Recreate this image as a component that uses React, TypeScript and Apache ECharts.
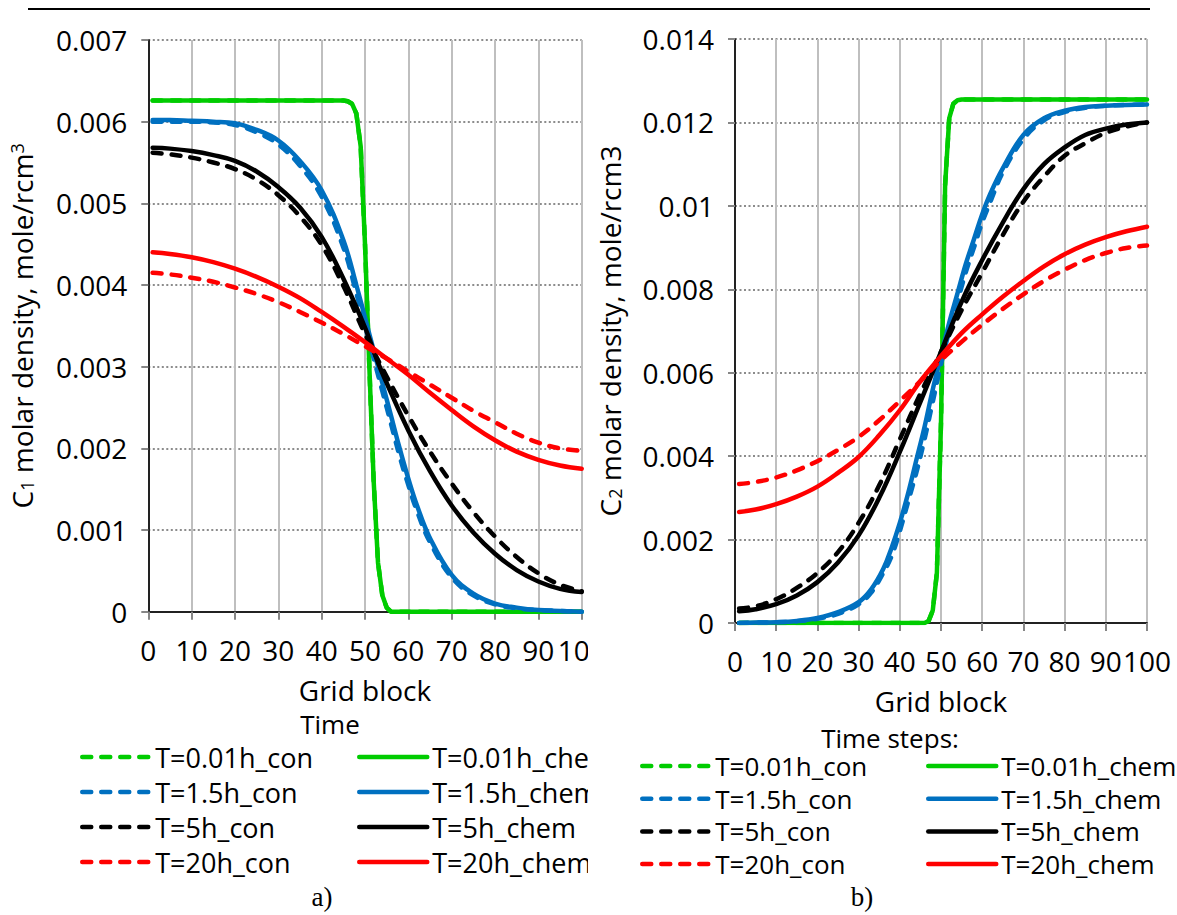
import React, { useEffect, useRef } from 'react';
import * as echarts from 'echarts';

const FONT = '"Open Sans", "Noto Sans", sans-serif';
const SERIF = '"Liberation Serif", "DejaVu Serif", serif';

const timeSteps = ['T=0.01h', 'T=1.5h', 'T=5h', 'T=20h'];
const stepColors = ['#00cc00', '#0070c0', '#000000', '#ff0000'];
const xMin = 0;
const xMax = 100;
const xInterval = 10;

// ---------- a) C1 molar density (mole/rcm3) vs grid block ----------
const c1Con001: [number, number][] = [[1,0.00626],[10,0.00626],[20,0.00626],[30,0.00626],[40,0.00626],[45,0.00626],[46,0.00625],[47,0.00622],[48,0.0061],[49,0.0057],[50,0.0045],[51,0.003],[52,0.0016],[53,0.0006],[54,0.0002],[55,0.00005],[56,0],[60,0],[70,0],[80,0],[90,0],[100,0]];
const c1Chem001: [number, number][] = [[1,0.00626],[10,0.00626],[20,0.00626],[30,0.00626],[40,0.00626],[45,0.00626],[46,0.00625],[47,0.00622],[48,0.0061],[49,0.0057],[50,0.0045],[51,0.003],[52,0.0016],[53,0.0006],[54,0.0002],[55,0.00005],[56,0],[60,0],[70,0],[80,0],[90,0],[100,0]];
const c1Con15: [number, number][] = [[1,0.006],[5,0.006],[10,0.006],[15,0.00599],[20,0.00596],[25,0.00587],[30,0.00572],[35,0.00546],[40,0.00508],[45,0.00446],[48,0.0039],[50,0.0035],[52,0.0031],[54,0.0027],[56,0.0023],[58,0.0019],[60,0.00155],[62,0.00123],[65,0.00085],[70,0.00042],[75,0.0002],[80,0.00009],[85,0.00004],[90,0.00002],[95,0.00001],[100,0]];
const c1Chem15: [number, number][] = [[1,0.00602],[5,0.00602],[10,0.00601],[15,0.006],[20,0.00598],[25,0.0059],[30,0.00577],[35,0.00552],[40,0.00516],[45,0.00455],[48,0.004],[50,0.0036],[52,0.0032],[54,0.0028],[56,0.0024],[58,0.002],[60,0.00163],[62,0.0013],[65,0.0009],[70,0.00045],[75,0.00022],[80,0.0001],[85,0.00005],[90,0.00002],[95,0.00001],[100,0]];
const c1Con5: [number, number][] = [[1,0.00562],[5,0.0056],[10,0.00556],[15,0.0055],[20,0.00542],[25,0.00529],[30,0.0051],[35,0.00484],[40,0.00449],[45,0.00399],[50,0.0034],[55,0.00288],[60,0.0024],[65,0.00196],[70,0.00157],[75,0.00122],[80,0.00092],[85,0.00067],[90,0.00047],[95,0.00033],[100,0.00025]];
const c1Chem5: [number, number][] = [[1,0.00568],[5,0.00567],[10,0.00564],[15,0.00559],[20,0.00552],[25,0.00539],[30,0.0052],[35,0.00495],[40,0.00459],[45,0.00408],[50,0.00348],[53,0.00305],[55,0.0028],[60,0.00222],[65,0.00172],[70,0.0013],[75,0.00097],[80,0.00071],[85,0.00051],[90,0.00037],[95,0.00028],[100,0.00024]];
const c1Con20: [number, number][] = [[1,0.00415],[5,0.00413],[10,0.00409],[15,0.00404],[20,0.00397],[25,0.00389],[30,0.00379],[35,0.00367],[40,0.00354],[45,0.0034],[50,0.00325],[55,0.0031],[60,0.00294],[65,0.00278],[70,0.00262],[75,0.00246],[80,0.00232],[85,0.00218],[90,0.00207],[95,0.002],[100,0.00197]];
const c1Chem20: [number, number][] = [[1,0.0044],[5,0.00438],[10,0.00434],[15,0.00428],[20,0.0042],[25,0.0041],[30,0.00398],[35,0.00384],[40,0.00367],[45,0.00349],[50,0.0033],[55,0.0031],[60,0.0029],[65,0.00268],[70,0.00247],[75,0.00227],[80,0.0021],[85,0.00196],[90,0.00186],[95,0.00179],[100,0.00175]];

// ---------- b) C2 molar density (mole/rcm3) vs grid block ----------
const c2Con001: [number, number][] = [[1,0],[10,0],[20,0],[30,0],[40,0],[46,0],[47,0.00005],[48,0.0003],[49,0.0012],[50,0.0048],[51,0.0105],[52,0.0121],[53,0.01245],[54,0.01253],[55,0.01255],[60,0.01255],[70,0.01255],[80,0.01255],[90,0.01255],[100,0.01255]];
const c2Chem001: [number, number][] = [[1,0],[10,0],[20,0],[30,0],[40,0],[46,0],[47,0.00005],[48,0.0003],[49,0.0012],[50,0.0048],[51,0.0105],[52,0.0121],[53,0.01245],[54,0.01253],[55,0.01255],[60,0.01255],[70,0.01255],[80,0.01255],[90,0.01255],[100,0.01255]];
const c2Con15: [number, number][] = [[1,0],[5,0.00001],[10,0.00002],[15,0.00004],[20,0.0001],[25,0.00022],[30,0.00045],[33,0.00072],[36,0.0012],[38,0.0016],[40,0.0022],[42,0.0029],[44,0.0036],[46,0.0044],[48,0.0053],[50,0.0062],[52,0.007],[54,0.0077],[56,0.0084],[58,0.009],[60,0.0096],[62,0.0101],[65,0.0108],[70,0.0116],[75,0.01205],[80,0.01225],[85,0.01235],[90,0.0124],[95,0.01242],[100,0.01243]];
const c2Chem15: [number, number][] = [[1,0],[5,0.00001],[10,0.00002],[15,0.00005],[20,0.00012],[25,0.00026],[30,0.0005],[33,0.0008],[36,0.0013],[38,0.0018],[40,0.0024],[42,0.0031],[44,0.0039],[46,0.0047],[48,0.0056],[50,0.0064],[52,0.0072],[54,0.0079],[56,0.0086],[58,0.0092],[60,0.0098],[62,0.0103],[65,0.0109],[70,0.0117],[75,0.0121],[80,0.01228],[85,0.01237],[90,0.0124],[95,0.01242],[100,0.01243]];
const c2Con5: [number, number][] = [[1,0.00035],[5,0.0004],[10,0.00057],[15,0.00084],[20,0.0012],[25,0.0017],[30,0.0024],[35,0.0033],[40,0.0044],[45,0.0055],[50,0.0065],[55,0.0075],[60,0.0084],[65,0.0093],[70,0.0101],[75,0.0107],[80,0.0112],[85,0.0115],[90,0.01175],[95,0.0119],[100,0.012]];
const c2Chem5: [number, number][] = [[1,0.00028],[5,0.00033],[10,0.00045],[15,0.00066],[20,0.00098],[25,0.00145],[30,0.0021],[35,0.003],[40,0.0041],[45,0.0053],[50,0.0065],[55,0.0077],[60,0.0087],[65,0.0096],[70,0.0104],[75,0.011],[80,0.0114],[85,0.0117],[90,0.01185],[95,0.01195],[100,0.012]];
const c2Con20: [number, number][] = [[1,0.00333],[5,0.00338],[10,0.00349],[15,0.00366],[20,0.00388],[25,0.00415],[30,0.00446],[35,0.00486],[40,0.00532],[45,0.0058],[50,0.0063],[55,0.00674],[60,0.00715],[65,0.00753],[70,0.00788],[75,0.0082],[80,0.00847],[85,0.0087],[90,0.00887],[95,0.00899],[100,0.00905]];
const c2Chem20: [number, number][] = [[1,0.00266],[5,0.00272],[10,0.00285],[15,0.00303],[20,0.00327],[25,0.0036],[30,0.00398],[35,0.0045],[40,0.0051],[45,0.0058],[50,0.0064],[55,0.00695],[60,0.0074],[65,0.00782],[70,0.0082],[75,0.00855],[80,0.00884],[85,0.00907],[90,0.00925],[95,0.00939],[100,0.0095]];

const c1Con = [c1Con001, c1Con15, c1Con5, c1Con20];
const c1Chem = [c1Chem001, c1Chem15, c1Chem5, c1Chem20];
const c2Con = [c2Con001, c2Con15, c2Con5, c2Con20];
const c2Chem = [c2Chem001, c2Chem15, c2Chem5, c2Chem20];

interface Panel {
  offsetX: number;
  width: number;
  grid: { left: number; top: number; width: number; height: number };
  yMax: number;
  yInterval: number;
  yName: string;
  yNameGap: number;
  con: [number, number][][];
  chem: [number, number][][];
  legendLeft: [number, number];
  legendTop: number;
  legendGap: number;
  legendLineHeight: number;
  legendFont: number;
  legendTitle: string;
  legendTitlePos: [number, number];
  caption: string;
  captionPos: [number, number];
  ruleX: [number, number];
}

const nameRich = {
  a: { fontSize: 28, fontFamily: FONT, color: '#000' },
  sub: { fontSize: 18, fontFamily: FONT, color: '#000', verticalAlign: 'bottom' },
  sup: { fontSize: 18, fontFamily: FONT, color: '#000', verticalAlign: 'top' },
};

const panels: Panel[] = [
  {
    offsetX: 0,
    width: 588,
    grid: { left: 148.3, top: 40, width: 433.4, height: 571.7 },
    yMax: 0.007,
    yInterval: 0.001,
    yName: '{a|C}{sub|1}{a| molar density, mole/rcm}{sup|3}',
    yNameGap: 112,
    con: c1Con,
    chem: c1Chem,
    legendLeft: [80, 357],
    legendTop: 742,
    legendGap: 5,
    legendLineHeight: 30,
    legendFont: 27,
    legendTitle: 'Time',
    legendTitlePos: [330, 724],
    caption: 'a)',
    captionPos: [322, 897],
    ruleX: [28, 588],
  },
  {
    offsetX: 588,
    width: 589,
    grid: { left: 147, top: 39, width: 412, height: 584 },
    yMax: 0.014,
    yInterval: 0.002,
    yName: '{a|C}{sub|2}{a| molar density, mole/rcm3}',
    yNameGap: 111,
    con: c2Con,
    chem: c2Chem,
    legendLeft: [52, 338],
    legendTop: 752,
    legendGap: 4.7,
    legendLineHeight: 28,
    legendFont: 26,
    legendTitle: 'Time steps:',
    legendTitlePos: [302, 738],
    caption: 'b)',
    captionPos: [274, 897],
    ruleX: [0, 562],
  },
];

const fmtY = (v: number) => (v === 0 ? '0' : String(parseFloat(v.toFixed(4))));

function buildOption(p: Panel) {
  const series: any[] = [];
  timeSteps.forEach((t, i) => {
    const isStep = i === 0;
    series.push({
      name: `${t}_con`,
      type: 'line',
      data: p.con[i],
      symbol: 'none',
      showSymbol: false,
      smooth: isStep ? false : 0.4,
      lineStyle: { color: stepColors[i], width: 4.5, type: [9, 10], cap: 'round', join: 'round' },
      itemStyle: { color: stepColors[i] },
      emphasis: { disabled: true },
      silent: true,
    });
    series.push({
      name: `${t}_chem`,
      type: 'line',
      data: p.chem[i],
      symbol: 'none',
      showSymbol: false,
      smooth: isStep ? false : 0.4,
      lineStyle: { color: stepColors[i], width: 4.5, type: 'solid', cap: 'round', join: 'round' },
      itemStyle: { color: stepColors[i] },
      emphasis: { disabled: true },
      silent: true,
    });
  });

  const legendCommon = {
    orient: 'vertical',
    top: p.legendTop,
    padding: 0,
    itemGap: p.legendGap,
    itemWidth: 68,
    itemHeight: 14,
    selectedMode: false,
    itemStyle: { opacity: 0 },
    lineStyle: { width: 4.5, cap: 'round' },
    textStyle: { fontSize: p.legendFont, fontFamily: FONT, color: '#000', lineHeight: p.legendLineHeight },
  };

  return {
    animation: false,
    grid: { ...p.grid, containLabel: false, outerBoundsMode: 'none' },
    xAxis: [
      {
        type: 'value',
        min: xMin,
        max: xMax,
        interval: xInterval,
        position: 'bottom',
        name: 'Grid block',
        nameLocation: 'middle',
        nameGap: 64,
        nameTextStyle: { fontSize: 28, fontFamily: FONT, color: '#000' },
        axisLine: { show: true, lineStyle: { color: '#868686', width: 2 } },
        axisTick: { show: true, inside: false, length: 8, lineStyle: { color: '#868686', width: 2 } },
        axisLabel: { fontSize: 28, fontFamily: FONT, color: '#000', margin: 24 },
        splitLine: { show: true, lineStyle: { color: '#bfbfbf', width: 2, type: 'solid' } },
      },
      {
        type: 'value',
        min: xMin,
        max: xMax,
        interval: xInterval,
        position: 'top',
        axisLine: { show: true, lineStyle: { color: '#000', width: 1.5 } },
        axisTick: { show: false },
        axisLabel: { show: false },
        splitLine: { show: false },
      },
    ],
    yAxis: [
      {
        type: 'value',
        min: 0,
        max: p.yMax,
        interval: p.yInterval,
        position: 'left',
        name: p.yName,
        nameLocation: 'middle',
        nameRotate: 90,
        nameGap: p.yNameGap,
        nameTextStyle: { fontSize: 28, fontFamily: FONT, color: '#000', rich: nameRich },
        axisLine: { show: true, lineStyle: { color: '#868686', width: 2 } },
        axisTick: { show: true, inside: false, length: 7, lineStyle: { color: '#868686', width: 2 } },
        axisLabel: { fontSize: 28, fontFamily: FONT, color: '#000', margin: 21, formatter: fmtY },
        splitLine: { show: true, lineStyle: { color: '#8c8c8c', width: 2, type: [2, 2.5] } },
      },
      {
        type: 'value',
        min: 0,
        max: p.yMax,
        interval: p.yInterval,
        position: 'right',
        axisLine: { show: true, lineStyle: { color: '#000', width: 1.5 } },
        axisTick: { show: false },
        axisLabel: { show: false },
        splitLine: { show: false },
      },
    ],
    legend: [
      { ...legendCommon, left: p.legendLeft[0], data: timeSteps.map((t) => `${t}_con`) },
      { ...legendCommon, left: p.legendLeft[1], data: timeSteps.map((t) => `${t}_chem`) },
    ],
    graphic: [
      {
        type: 'line',
        silent: true,
        shape: { x1: p.ruleX[0], y1: 9, x2: p.ruleX[1], y2: 9 },
        style: { stroke: '#000', lineWidth: 2 },
      },
      {
        type: 'text',
        silent: true,
        x: p.legendTitlePos[0],
        y: p.legendTitlePos[1],
        style: {
          text: p.legendTitle,
          fill: '#000',
          fontSize: 26,
          fontFamily: FONT,
          align: 'center',
          verticalAlign: 'middle',
          textAlign: 'center',
          textVerticalAlign: 'middle',
        },
      },
      {
        type: 'text',
        silent: true,
        x: p.captionPos[0],
        y: p.captionPos[1],
        style: {
          text: p.caption,
          fill: '#000',
          fontSize: 27,
          fontFamily: SERIF,
          align: 'center',
          verticalAlign: 'middle',
          textAlign: 'center',
          textVerticalAlign: 'middle',
        },
      },
    ],
    series,
  };
}

function ChartPanel({ panel }: { panel: Panel }) {
  const ref = useRef<HTMLDivElement>(null);
  useEffect(() => {
    if (!ref.current) return;
    const chart = echarts.init(ref.current, null, { renderer: 'svg' });
    chart.setOption(buildOption(panel) as any);
    return () => chart.dispose();
  }, [panel]);
  return (
    <div
      ref={ref}
      style={{
        position: 'absolute',
        left: panel.offsetX,
        top: 0,
        width: panel.width,
        height: 915,
        overflow: 'hidden',
      }}
    />
  );
}

export default function App() {
  return (
    <div
      style={{
        position: 'absolute',
        left: 0,
        top: 0,
        width: 1177,
        height: 915,
        background: '#fff',
        overflow: 'hidden',
      }}
    >
      {panels.map((p, i) => (
        <ChartPanel key={i} panel={p} />
      ))}
    </div>
  );
}
